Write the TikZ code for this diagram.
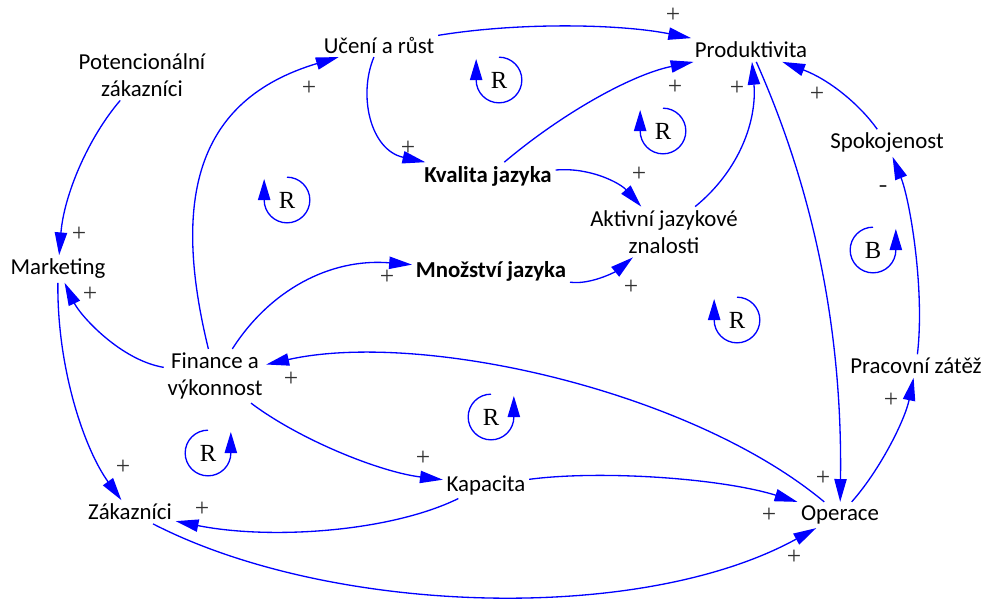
\documentclass[tikz,border=0pt]{standalone}
\usepackage{fontspec}
\setmainfont{Carlito}
\newfontfamily\loopfont{Liberation Serif}
\usetikzlibrary{arrows.meta}
\definecolor{linkblue}{RGB}{0,0,255}
\definecolor{signgray}{RGB}{50,50,50}
\tikzset{
  var/.style={inner sep=2pt, align=center, text=black,
    font=\fontsize{13}{15.4}\selectfont},
  varbold/.style={var, font=\fontsize{13}{15.4}\selectfont\bfseries},
  link/.style={-{Triangle[length=13pt,width=7pt]}, color=linkblue, line width=0.75pt},
  sign/.style={inner sep=0pt, text=signgray, font=\loopfont\fontsize{14.5}{14.5}\selectfont},
  looplabel/.style={inner sep=0pt, font=\loopfont\fontsize{14}{14}\selectfont},
  loopline/.style={-{Triangle[length=12pt,width=7pt]}, color=linkblue, line width=0.75pt}
}

\begin{document}
\begin{tikzpicture}[x=0.02cm, y=-0.02cm]
  \useasboundingbox (0,0) rectangle (994,599);

  % variables
  \node[var] (pot) at (142,75) {Potencionální\\zákazníci};
  \node[var] (uceni) at (379,45) {Učení a růst};
  \node[var] (prod) at (751,50) {Produktivita};
  \node[varbold] (kval) at (488,176) {Kvalita jazyka};
  \node[var] (akt) at (664,232) {Aktivní jazykové\\znalosti};
  \node[var] (spok) at (887,143) {Spokojenost};
  \node[var] (mkt) at (58,269) {Marketing};
  \node[varbold] (mnoz) at (491,271) {Množství jazyka};
  \node[var] (fin) at (215,376) {Finance a\\výkonnost};
  \node[var] (prac) at (916,366) {Pracovní zátěž};
  \node[var] (kap) at (486,485) {Kapacita};
  \node[var] (zak) at (130,512) {Zákazníci};
  \node[var] (oper) at (840,515) {Operace};

  % causal links
  \draw[link] (pot) .. controls (88,138) and (64,195) .. (mkt);
  \draw[link] (mkt) .. controls (57,370) and (85,450) .. (zak);
  \draw[link] (fin) .. controls (120,360) and (80,315) .. (mkt);
  \draw[link] (fin) .. controls (172,200) and (195,100) .. (uceni);
  \draw[link] (fin) .. controls (270,290) and (330,258) .. (mnoz);
  \draw[link] (fin) .. controls (300,440) and (380,472) .. (kap);
  \draw[link] (uceni) .. controls (358,95) and (370,150) .. (kval);
  \draw[link] (uceni) .. controls (520,22) and (620,24) .. (prod);
  \draw[link] (kval) .. controls (560,115) and (630,75) .. (prod);
  \draw[link] (kval) .. controls (590,167) and (620,183) .. (akt);
  \draw[link] (mnoz) .. controls (590,285) and (615,272) .. (akt);
  \draw[link] (akt) .. controls (740,170) and (757,120) .. (prod);
  \draw[link] (prod) .. controls (800,160) and (843,300) .. (oper);
  \draw[link] (spok) .. controls (860,105) and (830,80) .. (prod);
  \draw[link] (prac) .. controls (925,290) and (910,200) .. (spok);
  \draw[link] (oper) .. controls (880,470) and (905,420) .. (prac);
  \draw[link] (oper) .. controls (690,390) and (420,330) .. (fin);
  \draw[link] (kap) .. controls (600,470) and (720,478) .. (oper);
  \draw[link] (kap) .. controls (390,532) and (270,540) .. (zak);
  \draw[link] (zak) .. controls (330,615) and (640,625) .. (oper);

  % polarity signs
  \node[sign] (s1) at (79,234) {+};
  \node[sign] (s2) at (123,467) {+};
  \node[sign] (s3) at (90,294) {+};
  \node[sign] (s4) at (309,88) {+};
  \node[sign] (s5) at (387,277) {+};
  \node[sign] (s6) at (423,458) {+};
  \node[sign] (s7) at (408,148) {+};
  \node[sign] (s8) at (673,15) {+};
  \node[sign] (s9) at (675,87) {+};
  \node[sign] (s10) at (639,174) {+};
  \node[sign] (s11) at (631,287) {+};
  \node[sign] (s12) at (737,88) {+};
  \node[sign] (s13) at (823,478) {+};
  \node[sign] (s14) at (817,94) {+};
  \node[sign] (s15) at (883,189) {-};
  \node[sign] (s16) at (891,400) {+};
  \node[sign] (s17) at (291,379) {+};
  \node[sign] (s18) at (769,515) {+};
  \node[sign] (s19) at (202,509) {+};
  \node[sign] (s20) at (794,557) {+};

  % loop markers
  \node[looplabel] (loopA) at (499,80) {R};
  \draw[loopline] ([yshift=13pt]loopA.center) arc[start angle=90, end angle=-180, radius=13pt] -- ++(0pt,12pt);
  \node[looplabel] (loopB) at (287,200) {R};
  \draw[loopline] ([yshift=13pt]loopB.center) arc[start angle=90, end angle=-180, radius=13pt] -- ++(0pt,12pt);
  \node[looplabel] (loopC) at (663,131) {R};
  \draw[loopline] ([yshift=13pt]loopC.center) arc[start angle=90, end angle=-180, radius=13pt] -- ++(0pt,12pt);
  \node[looplabel] (loopD) at (737,320) {R};
  \draw[loopline] ([yshift=13pt]loopD.center) arc[start angle=90, end angle=-180, radius=13pt] -- ++(0pt,12pt);
  \node[looplabel] (loopE) at (873,250) {B};
  \draw[loopline] ([yshift=13pt]loopE.center) arc[start angle=90, end angle=360, radius=13pt] -- ++(0pt,12pt);
  \node[looplabel] (loopF) at (208,453) {R};
  \draw[loopline] ([yshift=13pt]loopF.center) arc[start angle=90, end angle=360, radius=13pt] -- ++(0pt,12pt);
  \node[looplabel] (loopG) at (491,417) {R};
  \draw[loopline] ([yshift=13pt]loopG.center) arc[start angle=90, end angle=360, radius=13pt] -- ++(0pt,12pt);
\end{tikzpicture}
\end{document}
